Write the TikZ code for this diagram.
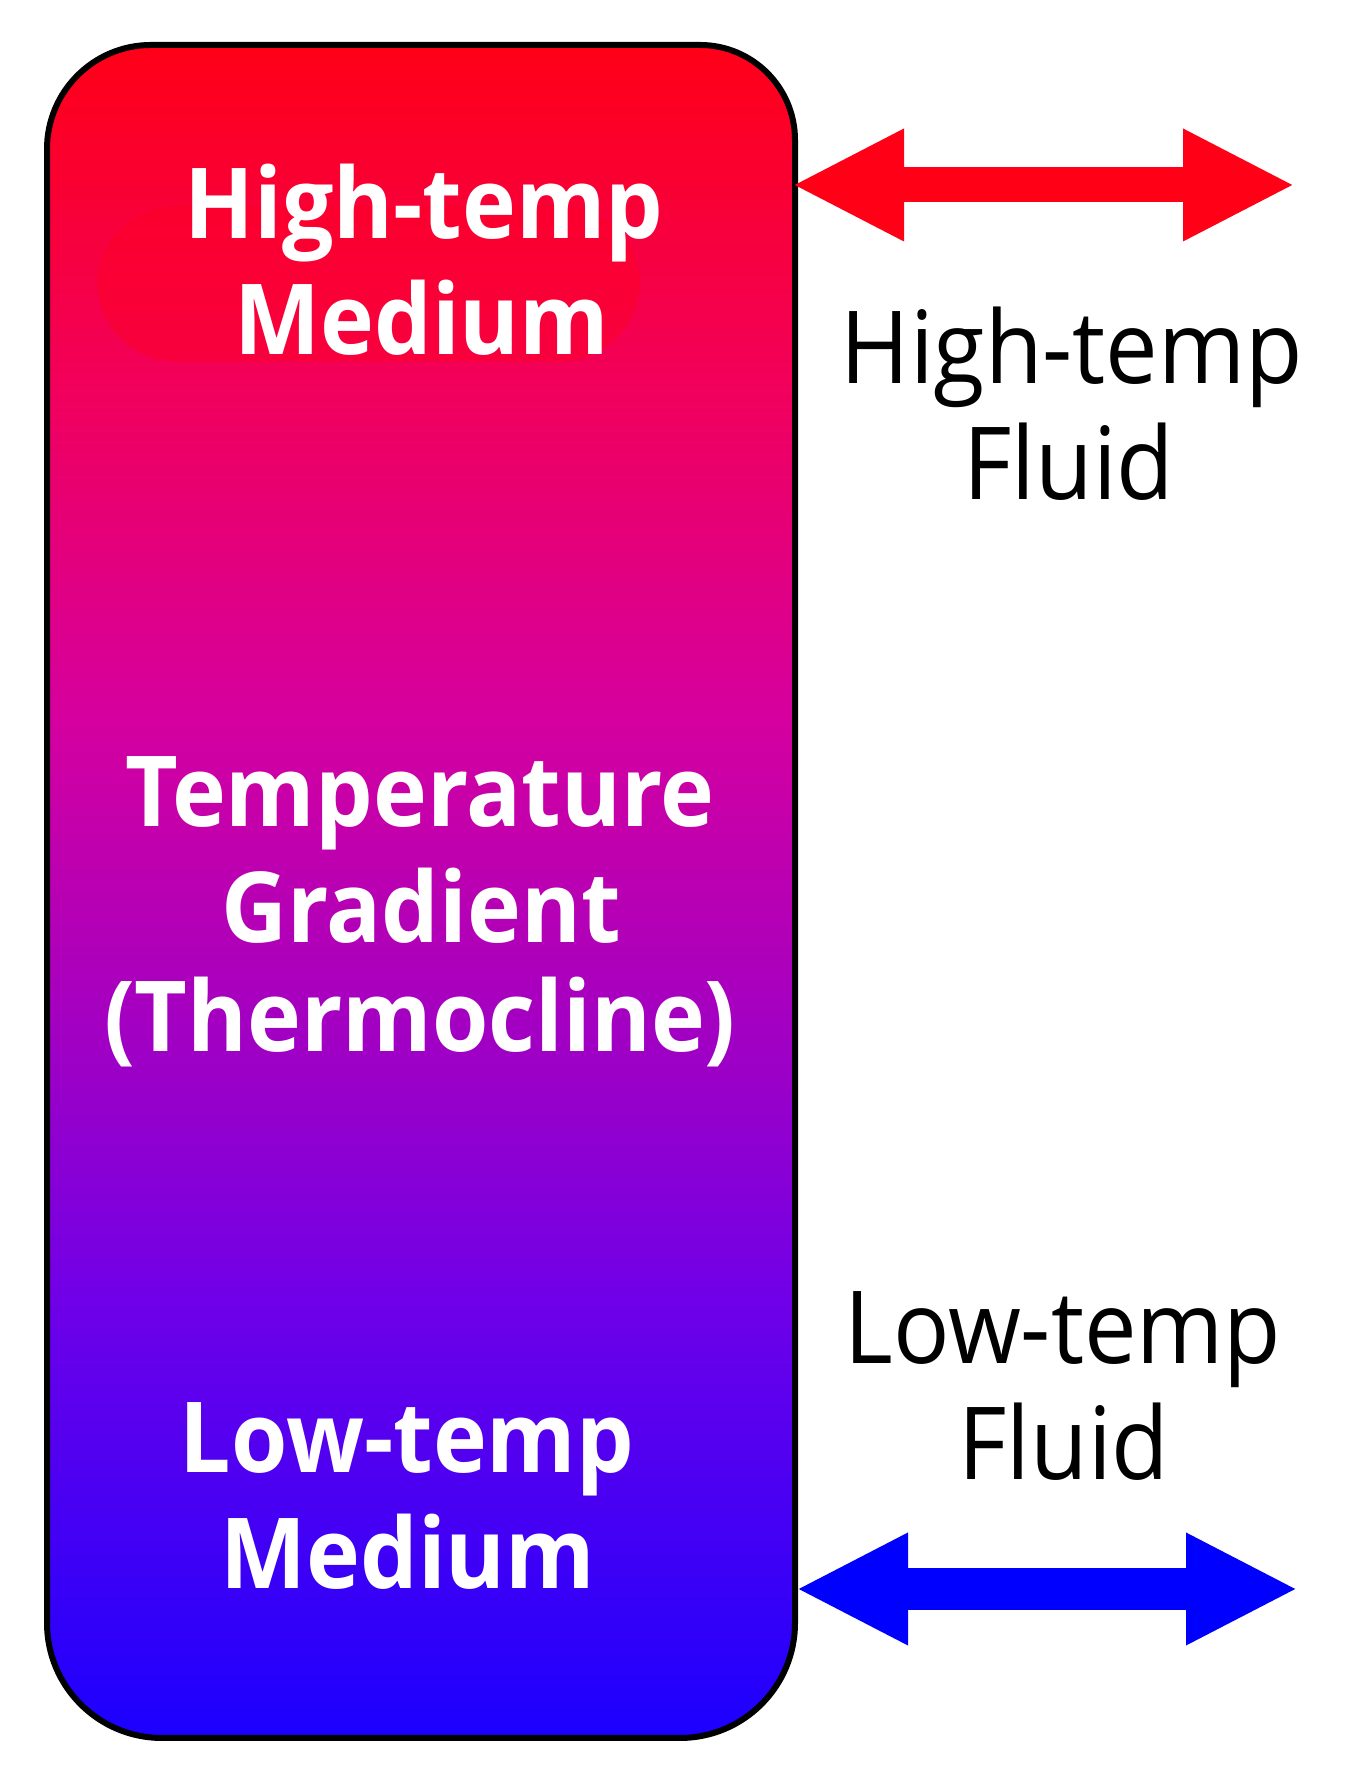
\documentclass[tikz,border=0pt]{standalone}
\usepackage{fontspec}
\usetikzlibrary{arrows.meta}
\newfontfamily\labfont[FakeStretch=0.93]{Open Sans}
\definecolor{c0}{RGB}{255,0,22}
\definecolor{c1}{RGB}{242,0,90}
\definecolor{c2}{RGB}{213,0,159}
\definecolor{c3}{RGB}{154,0,200}
\definecolor{c4}{RGB}{112,0,232}
\definecolor{c5}{RGB}{26,0,255}
\definecolor{hotred}{RGB}{255,0,22}
\definecolor{coldblue}{RGB}{0,0,255}
\definecolor{glowred}{RGB}{255,0,34}
\tikzset{
  medlabel/.style={text=white, font=\labfont\bfseries\fontsize{49}{56}\selectfont, anchor=base, inner sep=0pt},
  fluidlabel/.style={text=black, font=\labfont\fontsize{50.4}{58}\selectfont, anchor=base, inner sep=0pt},
  bigtip/.tip={Triangle[length=56pt,width=52pt]},
  hotarrow/.style={draw=hotred, line width=17.5pt, arrows={bigtip-bigtip}},
  coldarrow/.style={draw=coldblue, line width=21pt, arrows={bigtip-bigtip}},
  tankline/.style={draw=black, line width=3pt},
}
\begin{document}
\begin{tikzpicture}[x=0.5pt,y=0.5pt]
\useasboundingbox (0,0) rectangle (1350,1771);
\fill[white] (0,0) rectangle (1350,1771);
% tank gradient
\begin{scope}
\clip (421,1726) [rounded corners=47.5pt] -| (795,900) [rounded corners=57.5pt] |- (421,33) -| (47,900) [rounded corners=52pt] |- (300,1726) -- cycle;
\shade[top color=c0, bottom color=c1] (40,1391) rectangle (800,1730);
\shade[top color=c1, bottom color=c2] (40,1051) rectangle (800,1392);
\shade[top color=c2, bottom color=c3] (40,691) rectangle (800,1052);
\shade[top color=c3, bottom color=c4] (40,471) rectangle (800,692);
\shade[top color=c4, bottom color=c5] (40,28) rectangle (800,472);
\fill[glowred, opacity=0.45, rounded corners=40pt] (97,1409) rectangle (640,1565);
\end{scope}
\draw[tankline] (421,1726) [rounded corners=47.5pt] -| (795,900) [rounded corners=57.5pt] |- (421,33) -| (47,900) [rounded corners=52pt] |- (300,1726) -- cycle;
% medium labels
\node[medlabel] (hm1) at (424,1532) {High-temp};
\node[medlabel] (hm2) at (422,1416) {Medium};
\node[medlabel] (tg1) at (420,944) {Temperature};
\node[medlabel] (tg2) at (421,828) {Gradient};
\node[medlabel] (tg3) at (420,719) {(Thermocline)};
\node[medlabel] (lm1) at (407,298) {Low-temp};
\node[medlabel] (lm2) at (408,182) {Medium};
% fluid labels
\node[fluidlabel] (hf1) at (1072,1387) {High-temp};
\node[fluidlabel] (hf2) at (1069,1271) {Fluid};
\node[fluidlabel] (lf1) at (1063,407) {Low-temp};
\node[fluidlabel] (lf2) at (1064,291) {Fluid};
% arrows
\coordinate (hotL) at (792,1586);
\coordinate (hotR) at (1295,1586);
\coordinate (coldL) at (796,182);
\coordinate (coldR) at (1298,182);
\draw[hotarrow] (hotL) -- (hotR);
\draw[coldarrow] (coldL) -- (coldR);
\end{tikzpicture}
\end{document}
